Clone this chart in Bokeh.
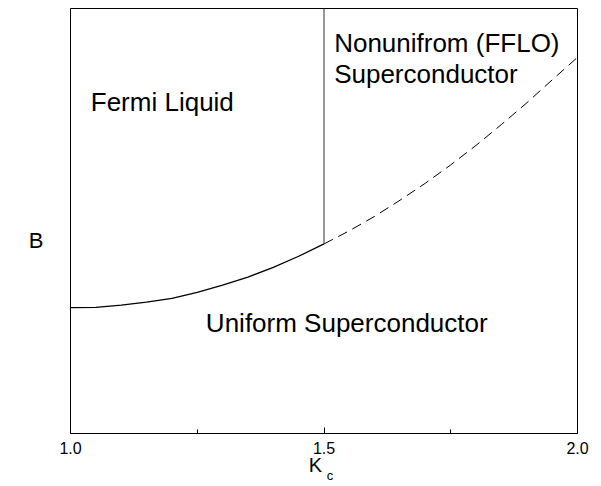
from bokeh.plotting import figure
from bokeh.models import FixedTicker, Range1d, Label, LinearAxis
from bokeh.embed import file_html
from bokeh.resources import INLINE

# Phase boundary B(Kc)
kc = [1.00, 1.05, 1.10, 1.15, 1.20, 1.25, 1.30, 1.35, 1.40, 1.45, 1.50,
      1.55, 1.60, 1.65, 1.70, 1.75, 1.80, 1.85, 1.90, 1.95, 2.00]
b_boundary = [0.296, 0.297, 0.302, 0.309, 0.318, 0.332, 0.349, 0.368, 0.391, 0.417, 0.446,
              0.477, 0.511, 0.549, 0.589, 0.632, 0.678, 0.727, 0.778, 0.832, 0.885]
kc_split = 1.5
vert_x = [1.5, 1.5]
vert_b = [0.446, 1.0]

tick_major = [1.0, 1.5, 2.0]
tick_minor = [1.25, 1.75]
tick_labels = {1.0: "1.0", 1.5: "1.5", 2.0: "2.0"}

regions = [
    ("Fermi Liquid", 1.04, 0.781),
    ("Nonunifrom (FFLO)", 1.52, 0.920),
    ("Superconductor", 1.52, 0.845),
    ("Uniform Superconductor", 1.267, 0.260),
]

# axis-title positions (placed as single tick labels)
b_title_pos = 0.454
k_title_pos = 1.483
c_sub_pos = 1.512

FONT = "Liberation Sans"

p = figure(width=590, height=486, output_backend="svg", toolbar_location=None,
           x_range=Range1d(1.0, 2.0), y_range=Range1d(0.0, 1.0),
           min_border_left=70, min_border_right=13, min_border_top=8, min_border_bottom=53)
p.grid.visible = False
p.outline_line_color = "black"
p.outline_line_width = 1
p.background_fill_color = "white"

solid_x = [x for x in kc if x <= kc_split]
solid_b = b_boundary[:len(solid_x)]
dash_x = [x for x in kc if x >= kc_split]
dash_b = b_boundary[len(solid_x) - 1:]

p.line(solid_x, solid_b, line_color="black", line_width=1.3)
p.line(dash_x, dash_b, line_color="black", line_width=1.0, line_dash="10 6")
p.line(vert_x, vert_b, line_color="#333333", line_width=1.0)

for txt, x, y in regions:
    p.add_layout(Label(x=x, y=y, text=txt, text_font=FONT, text_font_size="26px",
                       text_align="left", text_baseline="alphabetic", text_color="black"))

xa = p.xaxis[0]
xa.ticker = FixedTicker(ticks=tick_major, minor_ticks=tick_minor)
xa.major_label_overrides = tick_labels
xa.major_tick_in = 6
xa.major_tick_out = 0
xa.minor_tick_in = 4
xa.minor_tick_out = 0
xa.axis_line_color = "black"
xa.major_tick_line_color = "black"
xa.minor_tick_line_color = "black"
xa.major_label_text_font = FONT
xa.major_label_text_font_size = "16px"
xa.major_label_text_color = "black"
xa.major_label_standoff = 8


def title_axis(pos, text, size, standoff):
    ax = LinearAxis(ticker=FixedTicker(ticks=[pos], minor_ticks=[]),
                    major_label_overrides={pos: text})
    ax.axis_line_color = None
    ax.major_tick_line_color = None
    ax.minor_tick_line_color = None
    ax.major_tick_in = 0
    ax.major_tick_out = 0
    ax.minor_tick_in = 0
    ax.minor_tick_out = 0
    ax.major_label_text_font = FONT
    ax.major_label_text_font_size = size
    ax.major_label_text_color = "black"
    ax.major_label_standoff = standoff
    return ax


p.add_layout(title_axis(k_title_pos, "K", "20px", -3), "below")
p.add_layout(title_axis(c_sub_pos, "c", "13px", -11), "below")

ya = p.yaxis[0]
ya.ticker = FixedTicker(ticks=[b_title_pos], minor_ticks=[])
ya.major_label_overrides = {b_title_pos: "B"}
ya.major_tick_in = 0
ya.major_tick_out = 0
ya.minor_tick_in = 0
ya.minor_tick_out = 0
ya.major_tick_line_color = None
ya.major_label_text_font = FONT
ya.major_label_text_font_size = "22px"
ya.major_label_text_color = "black"
ya.major_label_standoff = 27
ya.axis_line_color = "black"

open("out.html", "w").write(file_html(p, INLINE))
